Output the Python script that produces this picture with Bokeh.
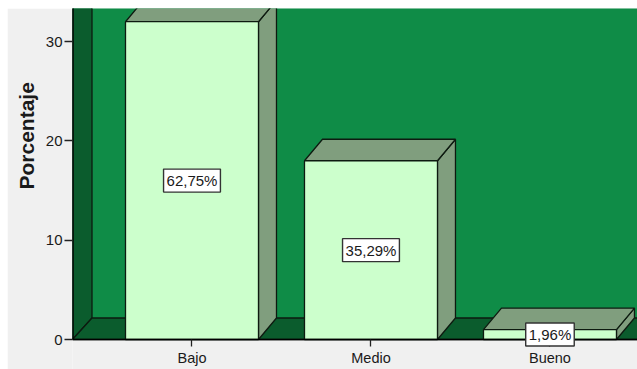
from bokeh.plotting import figure
from bokeh.models import Range1d, Label, FixedTicker, Title
from bokeh.embed import file_html
from bokeh.resources import INLINE

# ---- data ----
categories = ["Bajo", "Medio", "Bueno"]
counts = [32, 18, 1]
percent_labels = ["62,75%", "35,29%", "1,96%"]
y_ticks = [0, 10, 20, 30]
y_axis_title = "Porcentaje"

positions = list(range(1, len(categories) + 1))

# ---- geometry / style ----
X0, X1 = 0.3324, 3.489
Y0, Y1 = -3.02, 33.33
BAR_HALF = 0.3715
BAR_DX = 18 / 179
WALL_DX = 19.5 / 179
DY = 21.5 / 9.93

BACK = "#0f8c47"
DARK = "#0b5c2d"
FRONT = "#ccffcc"
SIDE = "#809e7e"
EDGE = "#0d1a10"
GRAY = "#f0f0f0"
FONT = "Liberation Sans"

p = figure(width=630, height=361, x_range=Range1d(X0, X1), y_range=Range1d(Y0, Y1),
           output_backend="svg", toolbar_location=None,
           min_border_left=65, min_border_right=0, min_border_top=0, min_border_bottom=0,
           margin=(8, 0, 0, 7))
p.background_fill_color = GRAY
p.border_fill_color = GRAY
p.outline_line_color = None
p.grid.visible = False

# back wall
p.quad(left=X0 - 1, right=X1 + 1, bottom=0, top=Y1 + 10, fill_color=BACK, line_color=None)

# walls and floor
p.patch([X0, X0 + WALL_DX, X0 + WALL_DX, X0], [0, DY, Y1 + 10, Y1 + 10],
        fill_color=DARK, line_color=EDGE, line_width=1.3)
p.patch([X0, X1 + 1, X1 + 1 + WALL_DX, X0 + WALL_DX], [0, 0, DY, DY],
        fill_color=DARK, line_color=EDGE, line_width=1.3)
# vertical axis line (front-left edge of the box)
p.segment(x0=[X0], y0=[0], x1=[X0], y1=[Y1 + 10], line_color="black", line_width=2.4)

# bars
for cx, v in zip(positions, counts):
    l, r = cx - BAR_HALF, cx + BAR_HALF
    p.patch([r, r + BAR_DX, r + BAR_DX, r], [0, DY, v + DY, v],
            fill_color=SIDE, line_color=EDGE, line_width=1.3)
    p.patch([l, r, r + BAR_DX, l + BAR_DX], [v, v, v + DY, v + DY],
            fill_color=SIDE, line_color=EDGE, line_width=1.3)
    p.quad(left=l, right=r, bottom=0, top=v,
           fill_color=FRONT, line_color=EDGE, line_width=1.3)

# axes
p.yaxis.ticker = FixedTicker(ticks=y_ticks)
p.yaxis.major_tick_out = 8
p.yaxis.major_tick_in = 0
p.yaxis.minor_tick_out = 0
p.yaxis.minor_tick_in = 0
p.yaxis.major_label_standoff = 2
p.yaxis.major_label_text_font = FONT
p.yaxis.major_label_text_font_size = "15px"
p.yaxis.major_label_text_color = "#1a1a1a"
p.yaxis.axis_line_color = None
p.yaxis.major_tick_line_color = "#222222"
p.yaxis.major_tick_line_width = 1.3

p.xaxis.fixed_location = 0
p.xaxis.ticker = FixedTicker(ticks=positions)
p.xaxis.major_label_overrides = {pos: c for pos, c in zip(positions, categories)}
p.xaxis.major_tick_out = 7
p.xaxis.major_tick_in = 0
p.xaxis.minor_tick_out = 0
p.xaxis.minor_tick_in = 0
p.xaxis.major_label_standoff = 3
p.xaxis.major_label_text_font = FONT
p.xaxis.major_label_text_font_size = "14.5px"
p.xaxis.major_label_text_color = "#1a1a1a"
p.xaxis.axis_line_color = "black"
p.xaxis.axis_line_width = 1.3
p.xaxis.major_tick_line_color = "#222222"
p.xaxis.major_tick_line_width = 1.3

# data labels
for cx, v, t in zip(positions, counts, percent_labels):
    p.add_layout(Label(x=cx, y=v / 2, text=t, text_align="center", text_baseline="middle",
                       text_font=FONT, text_font_size="15px", text_color="#1a1a1a",
                       background_fill_color="white", border_line_color="#333333",
                       border_line_width=1.4, padding=3))

# y axis title
p.add_layout(Title(text=y_axis_title, align="left", offset=180, standoff=6,
                   vertical_align="top",
                   text_font=FONT, text_font_size="21px", text_font_style="bold",
                   text_color="#1a1a1a"), "left")

open("out.html", "w").write(file_html(p, INLINE))
